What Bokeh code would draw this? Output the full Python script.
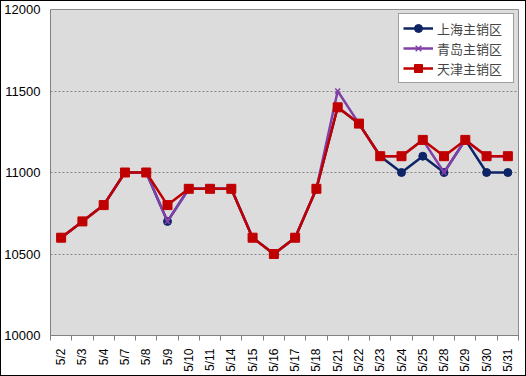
from bokeh.plotting import figure
from bokeh.models import FixedTicker, Legend, LegendItem, Range1d
from bokeh.embed import file_html
from bokeh.resources import INLINE
import math

dates = ["5/2", "5/3", "5/4", "5/7", "5/8", "5/9", "5/10", "5/11", "5/14", "5/15", "5/16",
         "5/17", "5/18", "5/21", "5/22", "5/23", "5/24", "5/25", "5/28", "5/29", "5/30", "5/31"]
shanghai = [10600, 10700, 10800, 11000, 11000, 10700, 10900, 10900, 10900, 10600, 10500,
            10600, 10900, 11400, 11300, 11100, 11000, 11100, 11000, 11200, 11000, 11000]
qingdao = [10600, 10700, 10800, 11000, 11000, 10700, 10900, 10900, 10900, 10600, 10500,
           10600, 10900, 11500, 11300, 11100, 11100, 11200, 11000, 11200, 11100, 11100]
tianjin = [10600, 10700, 10800, 11000, 11000, 10800, 10900, 10900, 10900, 10600, 10500,
           10600, 10900, 11400, 11300, 11100, 11100, 11200, 11100, 11200, 11100, 11100]
names = ["上海主销区", "青岛主销区", "天津主销区"]
y_ticks = [10000, 10500, 11000, 11500, 12000]

xs = list(range(len(dates)))

p = figure(width=526, height=376, output_backend="svg", toolbar_location=None,
           x_range=Range1d(-0.5, len(dates) - 0.5), y_range=Range1d(10000, 12000),
           min_border_left=48, min_border_right=9, min_border_top=8, min_border_bottom=42)
p.background_fill_color = "#DCDCDC"
p.border_fill_color = "white"
p.outline_line_color = "#8C8C8C"
p.outline_line_width = 1
p.styles = {"border": "1px solid #000000", "box-sizing": "border-box"}

p.xgrid.grid_line_color = None
p.ygrid.grid_line_color = "#8A8A8A"
p.ygrid.grid_line_dash = "2 2"
p.ygrid.grid_line_width = 1.2
p.ygrid.ticker = FixedTicker(ticks=[10500, 11000, 11500])

xt = FixedTicker(ticks=xs, minor_ticks=[i + 0.5 for i in range(-1, len(dates))])
p.xaxis.ticker = xt
p.xaxis.major_label_overrides = {i: d for i, d in enumerate(dates)}
p.xaxis.major_label_orientation = math.pi / 2
p.xaxis.major_tick_out = 0
p.xaxis.major_tick_in = 0
p.xaxis.minor_tick_out = 5
p.xaxis.minor_tick_in = 0
p.xaxis.minor_tick_line_color = "#808080"
p.xaxis.axis_line_color = "#808080"
p.xaxis.major_label_standoff = 8
p.xaxis.major_label_text_font = "Liberation Sans"
p.xaxis.major_label_text_font_size = "12px"
p.xaxis.major_label_text_color = "#000000"

p.yaxis.ticker = FixedTicker(ticks=y_ticks)
p.yaxis.major_tick_out = 0
p.yaxis.major_tick_in = 0
p.yaxis.minor_tick_line_color = None
p.yaxis.axis_line_color = "#808080"
p.yaxis.major_label_standoff = 10
p.yaxis.major_label_text_font = "Liberation Sans"
p.yaxis.major_label_text_font_size = "13px"
p.yaxis.major_label_text_color = "#000000"

c_sh, c_qd, c_tj = "#0F2466", "#8040A8", "#C00000"

l1 = p.line(xs, shanghai, line_color=c_sh, line_width=2.5)
m1 = p.scatter(xs, shanghai, marker="circle", size=8, fill_color=c_sh, line_color=c_sh)
l2 = p.line(xs, qingdao, line_color=c_qd, line_width=2.5)
m2 = p.scatter(xs, qingdao, marker="x", size=7, line_color=c_qd, line_width=1.5)
l3 = p.line(xs, tianjin, line_color=c_tj, line_width=2.5)
m3 = p.scatter(xs, tianjin, marker="square", size=9, fill_color=c_tj, line_color=c_tj)

legend = Legend(items=[LegendItem(label=names[0], renderers=[l1, m1]),
                       LegendItem(label=names[1], renderers=[l2, m2]),
                       LegendItem(label=names[2], renderers=[l3, m3])],
                location="top_right")
legend.margin = 4
legend.padding = 4
legend.spacing = 0
legend.glyph_width = 30
legend.glyph_height = 20
legend.label_height = 20
legend.label_width = 72
legend.label_text_font = "Noto Sans CJK SC"
legend.label_text_font_size = "13px"
legend.label_standoff = 4
legend.border_line_color = "#404040"
legend.border_line_width = 1
legend.background_fill_color = "white"
legend.background_fill_alpha = 1
p.add_layout(legend)

open("out.html", "w").write(file_html(p, INLINE))
